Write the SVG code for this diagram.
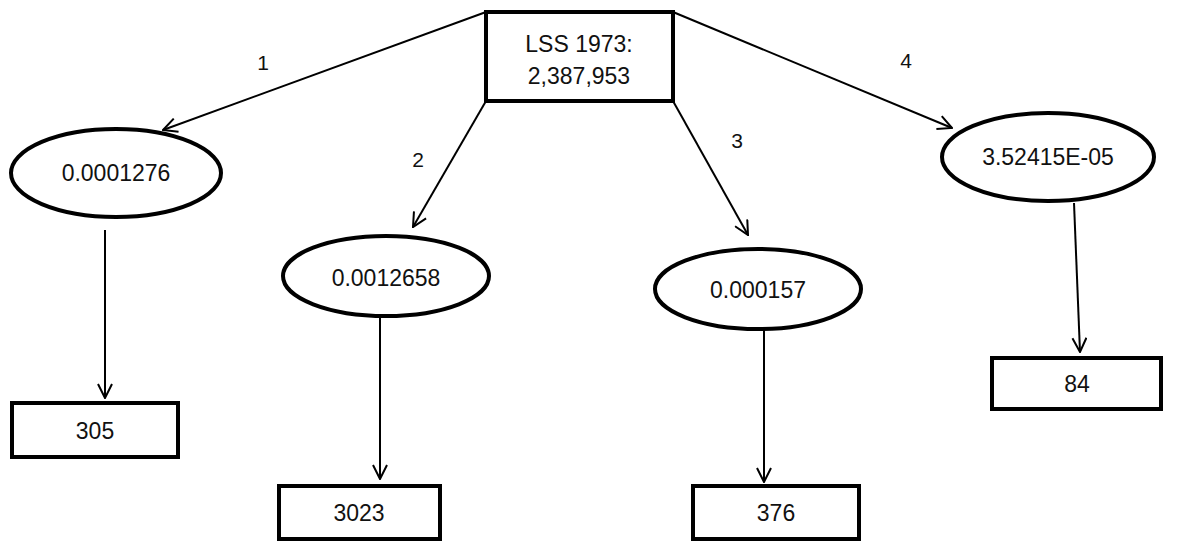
<svg xmlns="http://www.w3.org/2000/svg" width="1189" height="543" viewBox="0 0 1189 543">
  <style>
    .box { fill: #fff; stroke: #000; stroke-width: 4; }
    .oval { fill: #fff; stroke: #000; stroke-width: 4; }
    .edge { fill: none; stroke: #000; stroke-width: 2; }
    .t { font-family: "Liberation Sans", Arial, sans-serif; font-size: 23px; fill: #111; text-anchor: middle; dominant-baseline: central; }
    .lbl { font-family: "Liberation Sans", Arial, sans-serif; font-size: 21px; fill: #111; text-anchor: middle; dominant-baseline: central; }
  </style>
  <defs>
    <marker id="arrow" viewBox="0 0 16 16" refX="15" refY="8" markerWidth="16" markerHeight="16" markerUnits="userSpaceOnUse" orient="auto">
      <path d="M1,1 L15,8 L1,15" fill="none" stroke="#000" stroke-width="2"/>
    </marker>
  </defs>
  <rect width="1189" height="543" fill="#fff"/>

  <!-- connectors -->
  <g id="connectors">
    <line class="edge" x1="486" y1="12" x2="163" y2="130" marker-end="url(#arrow)"/>
    <line class="edge" x1="486" y1="101" x2="413" y2="227" marker-end="url(#arrow)"/>
    <line class="edge" x1="673" y1="101" x2="748" y2="235" marker-end="url(#arrow)"/>
    <line class="edge" x1="673" y1="12" x2="952" y2="128" marker-end="url(#arrow)"/>
    <line class="edge" x1="105" y1="230" x2="105" y2="398" marker-end="url(#arrow)"/>
    <line class="edge" x1="380" y1="317" x2="380" y2="479" marker-end="url(#arrow)"/>
    <line class="edge" x1="764" y1="330" x2="764" y2="482" marker-end="url(#arrow)"/>
    <line class="edge" x1="1074" y1="203" x2="1080" y2="352" marker-end="url(#arrow)"/>
    <text class="lbl" x="263" y="62">1</text>
    <text class="lbl" x="418" y="159">2</text>
    <text class="lbl" x="737" y="140">3</text>
    <text class="lbl" x="906" y="60">4</text>
  </g>

  <!-- root -->
  <g id="root">
    <rect class="box" x="486" y="12" width="187" height="89"/>
    <text class="t" x="579" y="44">LSS 1973:</text>
    <text class="t" x="579" y="76">2,387,953</text>
  </g>

  <!-- ratio ovals -->
  <g id="ratio1">
    <ellipse class="oval" cx="116" cy="173" rx="105" ry="44"/>
    <text class="t" x="116" y="173">0.0001276</text>
  </g>
  <g id="ratio2">
    <ellipse class="oval" cx="386" cy="276" rx="103" ry="40"/>
    <text class="t" x="386" y="278">0.0012658</text>
  </g>
  <g id="ratio3">
    <ellipse class="oval" cx="758" cy="289" rx="103" ry="40"/>
    <text class="t" x="758" y="290">0.000157</text>
  </g>
  <g id="ratio4">
    <ellipse class="oval" cx="1048" cy="157" rx="106" ry="44"/>
    <text class="t" x="1048" y="157">3.52415E-05</text>
  </g>

  <!-- counts -->
  <g id="count1">
    <rect class="box" x="12" y="403" width="166" height="54"/>
    <text class="t" x="95" y="431">305</text>
  </g>
  <g id="count2">
    <rect class="box" x="279" y="486" width="161" height="53"/>
    <text class="t" x="359" y="513">3023</text>
  </g>
  <g id="count3">
    <rect class="box" x="693" y="486" width="166" height="53"/>
    <text class="t" x="776" y="513">376</text>
  </g>
  <g id="count4">
    <rect class="box" x="992" y="358" width="169" height="51"/>
    <text class="t" x="1077" y="384">84</text>
  </g>
</svg>
